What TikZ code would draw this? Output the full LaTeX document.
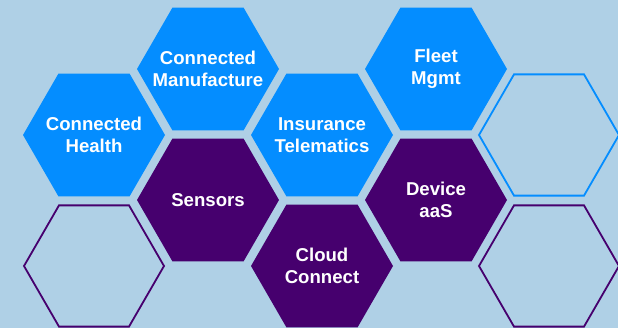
\documentclass[tikz,border=0pt]{standalone}
\usepackage{fontspec}
\setmainfont{Liberation Sans}
\usetikzlibrary{shapes.geometric}

\definecolor{hexblue}{HTML}{048DFF}
\definecolor{hexpurple}{HTML}{46006E}
\definecolor{backblue}{HTML}{AFD0E6}

\tikzset{
  hexcell/.style={regular polygon, regular polygon sides=6, minimum size=142pt, inner sep=0pt},
  hexlabel/.style={text=white, align=center, font=\bfseries\fontsize{18.6}{22}\selectfont},
}

\begin{document}
\begin{tikzpicture}[x=1pt,y=-1pt]

        \fill[backblue] (0,0) rectangle (618,328);
        \useasboundingbox (0,0) rectangle (618,328);

        % filled blue cells
        \node[hexcell, fill=hexblue] (health) at (94,135) {};
        \node[hexcell, fill=hexblue] (manufacture) at (208,69) {};
        \node[hexcell, fill=hexblue] (insurance) at (322,135) {};
        \node[hexcell, fill=hexblue] (fleet) at (436,69) {};

        % filled purple cells
        \node[hexcell, fill=hexpurple] (sensors) at (208,200) {};
        \node[hexcell, fill=hexpurple] (cloud) at (322,266) {};
        \node[hexcell, fill=hexpurple] (device) at (436,200) {};

        % empty outlined cells
        \node[hexcell, minimum size=140pt, draw=hexpurple, line width=1.8pt] (emptyleft) at (94,266) {};
        \node[hexcell, minimum size=140pt, draw=hexblue, line width=1.8pt] (emptytop) at (549,135) {};
        \node[hexcell, minimum size=140pt, draw=hexpurple, line width=1.8pt] (emptyright) at (549,266) {};

        % labels
        \node[hexlabel] (healthtext) at (health) {Connected\\Health};
        \node[hexlabel] (manufacturetext) at (manufacture) {Connected\\Manufacture};
        \node[hexlabel] (insurancetext) at (insurance) {Insurance\\Telematics};
        \node[hexlabel] (fleettext) at (fleet) {Fleet\\Mgmt};
        \node[hexlabel] (sensorstext) at (sensors) {Sensors};
        \node[hexlabel] (cloudtext) at (cloud) {Cloud\\Connect};
        \node[hexlabel] (devicetext) at (device) {Device\\aaS};

\end{tikzpicture}
\end{document}
